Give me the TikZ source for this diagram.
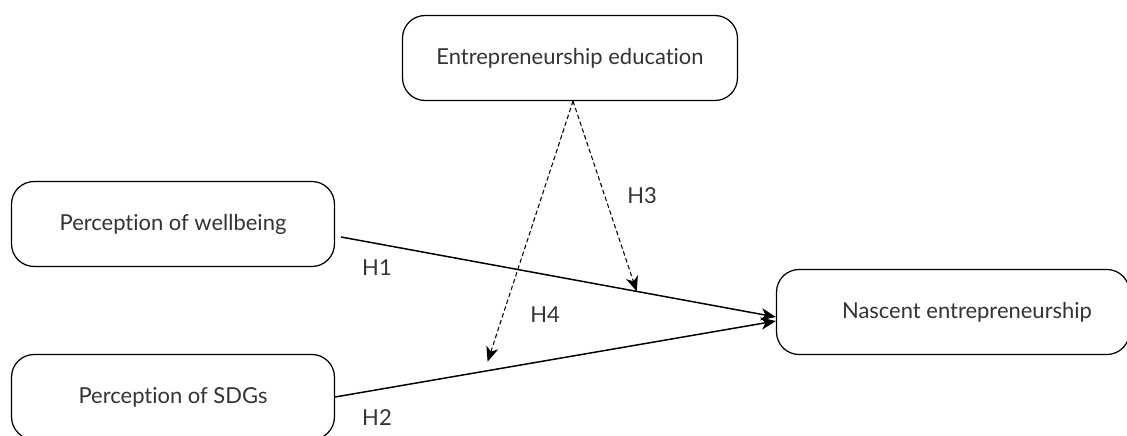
\documentclass[tikz,border=0pt]{standalone}
\usepackage{fontspec}
\setmainfont{Lato}[Ligatures=NoCommon]
\usetikzlibrary{positioning,calc,arrows.meta}
\definecolor{inkgray}{HTML}{333333}
\begin{document}
\begin{tikzpicture}[x=0.02cm,y=-0.02cm,>={Stealth[length=8.5pt,width=7pt,inset=2.5pt]}]
% --- Layout & Styles --------------------------------------
\tikzstyle{box}=[draw,rounded corners=0.45cm,line width=0.7pt,minimum height=1.7cm,
  text=inkgray,font=\fontsize{12.5}{15}\selectfont]
\tikzstyle{path line}=[->,line width=0.85pt]
\tikzstyle{moderator}=[->,line width=0.6pt,dash pattern=on 2.5pt off 1.6pt]
\tikzstyle{hyp}=[text=inkgray,font=\fontsize{12.5}{15}\selectfont]
\useasboundingbox (0,0) rectangle (1127,436);
% --- Boxes ------------------------------------------------
\node (edu)  [box, minimum width=6.7cm]  at (570,58)  {Entrepreneurship education};
\node (well) [box, minimum width=6.46cm] at (173,224) {Perception of wellbeing};
\node (sdg)  [box, minimum width=6.46cm] at (173,397) {Perception of SDGs};
\node (nasc) [box, minimum width=7.06cm] at (953,312) {\hspace*{0.56cm}Nascent entrepreneurship};

% --- Edges ------------------------------------------------
\draw [path line] ($(well.east)+(6,13)$) -- coordinate[pos=0.68] (m1) ($(nasc.west)+(0,5)$);
\draw [path line] (sdg.east) -- coordinate[pos=0.346] (m2) ($(nasc.west)+(0,9)$);
\coordinate (apex) at ($(edu.south)+(3,0)$);
\draw [moderator] (apex) -- (m1);
\draw [moderator] (apex) -- ($(m2)+(0,-9)$);

% --- Hypothesis labels ------------------------------------
\node (h1) [hyp] at (377,268) {H1};
\node (h2) [hyp] at (377,418) {H2};
\node (h3) [hyp] at (642,196) {H3};
\node (h4) [hyp] at (545,315) {H4};
\end{tikzpicture}
\end{document}
